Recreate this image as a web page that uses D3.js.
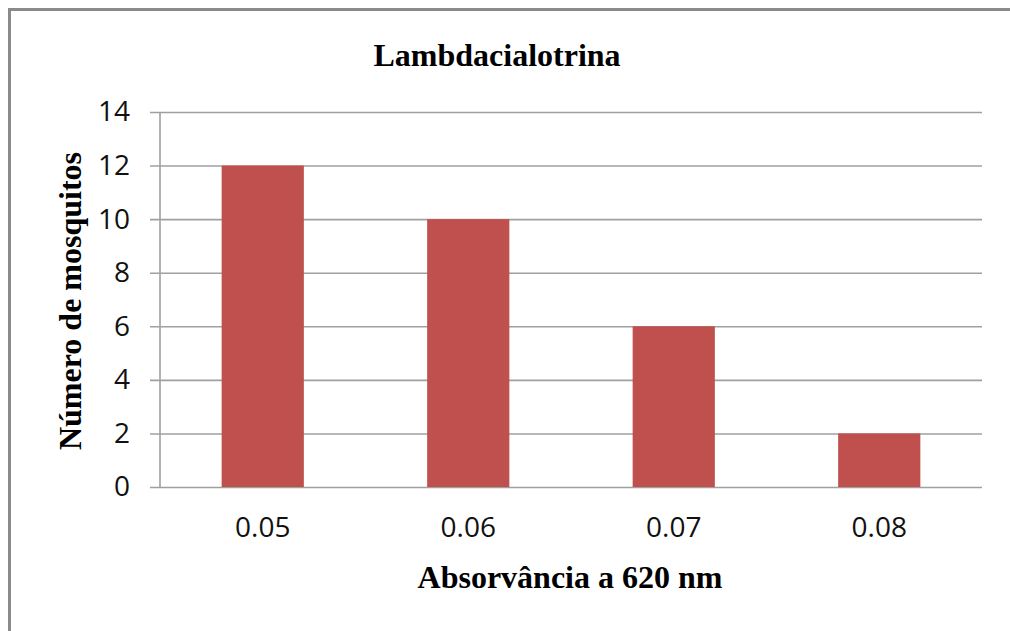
<!DOCTYPE html>
<html>
<head>
<meta charset="utf-8">
<script src="https://cdn.jsdelivr.net/npm/d3@7"></script>
<style>
  html, body { margin: 0; padding: 0; background: #fff; }
  svg { display: block; }
</style>
</head>
<body>
<svg id="chart" width="1010" height="631"></svg>
<script>
// Mosquito counts by absorbance class
const categories = ["0.05", "0.06", "0.07", "0.08"];
const counts = [12, 10, 6, 2];
const yTicks = [0, 2, 4, 6, 8, 10, 12, 14];

const titleText = "Lambdacialotrina";
const xTitle = "Absorvância a 620 nm";
const yTitle = "Número de mosquitos";

const svg = d3.select("#chart");
const W = 1010, H = 631;
const plot = { left: 160, right: 982, top: 112, bottom: 487 };

// Frame: top and left edges only
svg.append("line").attr("x1", 8).attr("x2", W).attr("y1", 9.5).attr("y2", 9.5)
  .attr("stroke", "#8a8a8a").attr("stroke-width", 3);
svg.append("line").attr("x1", 9.5).attr("x2", 9.5).attr("y1", 8).attr("y2", H)
  .attr("stroke", "#8a8a8a").attr("stroke-width", 3);

const x = d3.scaleBand().domain(categories)
  .range([plot.left, plot.right]).paddingInner(0.6).paddingOuter(0.3);
const y = d3.scaleLinear().domain([0, 14]).range([plot.bottom, plot.top]);

// Horizontal gridlines with short left ticks
const yAxis = d3.axisLeft(y).tickValues(yTicks)
  .tickSize(-(plot.right - plot.left) - 10).tickPadding(20).tickFormat(d3.format("d"));
const gy = svg.append("g").attr("transform", `translate(${plot.right},0)`)
  .call(d3.axisLeft(y).tickValues(yTicks).tickSize(plot.right - plot.left + 10).tickFormat(""));
gy.select(".domain").remove();
gy.selectAll(".tick line").attr("stroke", "#a0a0a0").attr("stroke-width", 1.6);

// Y tick labels
const gyl = svg.append("g").attr("transform", `translate(${plot.left - 10},0)`)
  .call(d3.axisLeft(y).tickValues(yTicks).tickSize(0).tickPadding(20).tickFormat(d3.format("d")));
gyl.select(".domain").remove();
gyl.selectAll("text").attr("font-family", "'Open Sans', sans-serif")
  .attr("font-size", 28).attr("fill", "#111");

// Vertical axis line
svg.append("line").attr("x1", plot.left).attr("x2", plot.left)
  .attr("y1", y(14)).attr("y2", y(0)).attr("stroke", "#a0a0a0").attr("stroke-width", 1.6);

// Bars
svg.append("g").selectAll("rect").data(categories).join("rect")
  .attr("x", d => x(d))
  .attr("width", x.bandwidth())
  .attr("y", (d, i) => y(counts[i]))
  .attr("height", (d, i) => y(0) - y(counts[i]))
  .attr("fill", "#c0504d");

// X axis labels
const gx = svg.append("g").attr("transform", `translate(0,${plot.bottom})`)
  .call(d3.axisBottom(x).tickSize(0).tickPadding(30));
gx.select(".domain").remove();
gx.selectAll("text").attr("font-family", "'Open Sans', sans-serif")
  .attr("font-size", 28).attr("fill", "#111");

// Titles
const serif = "'Liberation Serif', 'Times New Roman', serif";
svg.append("text").attr("x", 497).attr("y", 66).attr("text-anchor", "middle")
  .attr("font-family", serif).attr("font-weight", "bold").attr("font-size", 32)
  .text(titleText);
svg.append("text").attr("x", 570).attr("y", 588).attr("text-anchor", "middle")
  .attr("font-family", serif).attr("font-weight", "bold").attr("font-size", 32)
  .text(xTitle);
svg.append("text").attr("transform", "translate(81,301) rotate(-90)").attr("text-anchor", "middle")
  .attr("font-family", serif).attr("font-weight", "bold").attr("font-size", 32)
  .text(yTitle);
</script>
</body>
</html>
